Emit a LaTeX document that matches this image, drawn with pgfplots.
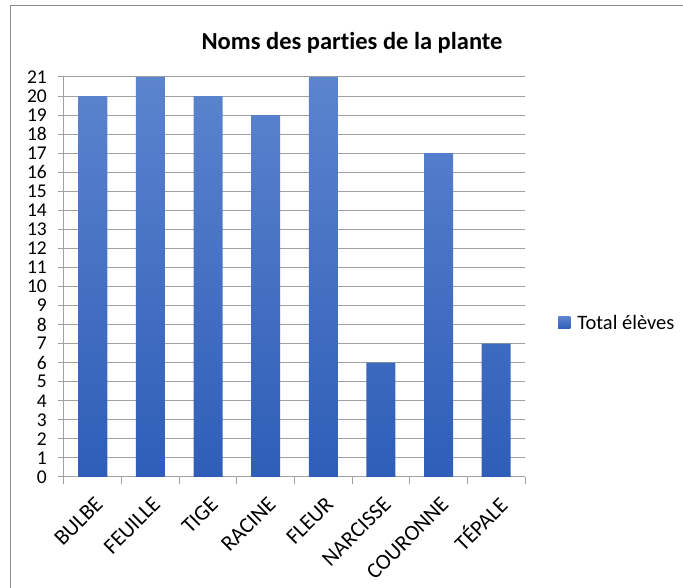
\documentclass[border=0pt]{standalone}
\usepackage{pgfplots}
\pgfplotsset{compat=1.18}
\usepackage{fontspec}
\setmainfont{Carlito}[Ligatures=NoCommon]
\definecolor{barTop}{RGB}{92,132,206}
\definecolor{barBot}{RGB}{46,94,184}
\definecolor{gridc}{RGB}{160,160,160}
\definecolor{framec}{RGB}{140,140,140}
\begin{document}
\begin{tikzpicture}[x=1pt,y=1pt]
\path[use as bounding box] (-64,-111) rectangle (619,477);
\draw[framec, line width=1pt] (-53,-111) -- (-53,471) -- (619,471);
\node[font=\fontsize{24.5}{28}\selectfont\bfseries, anchor=center] at (288,434) {Noms des parties de la plante};
\begin{axis}[
  at={(0,0)}, anchor=south west,
  width=461pt, height=400pt, scale only axis,
  xmin=-0.5, xmax=7.5, ymin=0, ymax=21,
  axis x line=bottom, axis y line=left,
  axis line style={-, draw=gridc, line width=1pt},
  xtick={0,...,7},
  xticklabels={BULBE,FEUILLE,TIGE,RACINE,FLEUR,NARCISSE,COURONNE,TÉPALE},
  minor xtick={-0.5,0.5,...,7.5},
  major x tick style={draw=none},
  minor x tick style={draw=gridc, line width=1pt},
  minor tick length=7pt,
  major tick length=6pt,
  tick align=outside,
  ytick={0,...,21},
  y tick style={draw=gridc, line width=1pt},
  ymajorgrids,
  major grid style={draw=gridc, line width=1pt},
  xticklabel style={rotate=45, anchor=east, font=\fontsize{22}{24}\selectfont, inner sep=0pt, xshift=-8pt, yshift=-17pt},
  yticklabel style={font=\fontsize{19.5}{20}\selectfont, inner sep=0pt, anchor=east, xshift=-11pt},
  /pgf/number format/assume math mode=true,
  legend style={at={(1.072,0.385)}, anchor=west, draw=none, fill=none, font=\fontsize{20.5}{22}\selectfont, inner sep=0pt, /tikz/every odd column/.append style={column sep=5pt}},
  legend image code/.code={\fill[barBot!90!white] (0pt,-6pt) rectangle (12pt,6pt);},
]
\addplot[ybar, bar width=29pt, draw=none, top color=barTop, bottom color=barBot]
  coordinates {(0,20) (1,21) (2,20) (3,19) (4,21) (5,6) (6,17) (7,7)};
\addlegendentry{Total élèves}
\end{axis}
\end{tikzpicture}
\end{document}
